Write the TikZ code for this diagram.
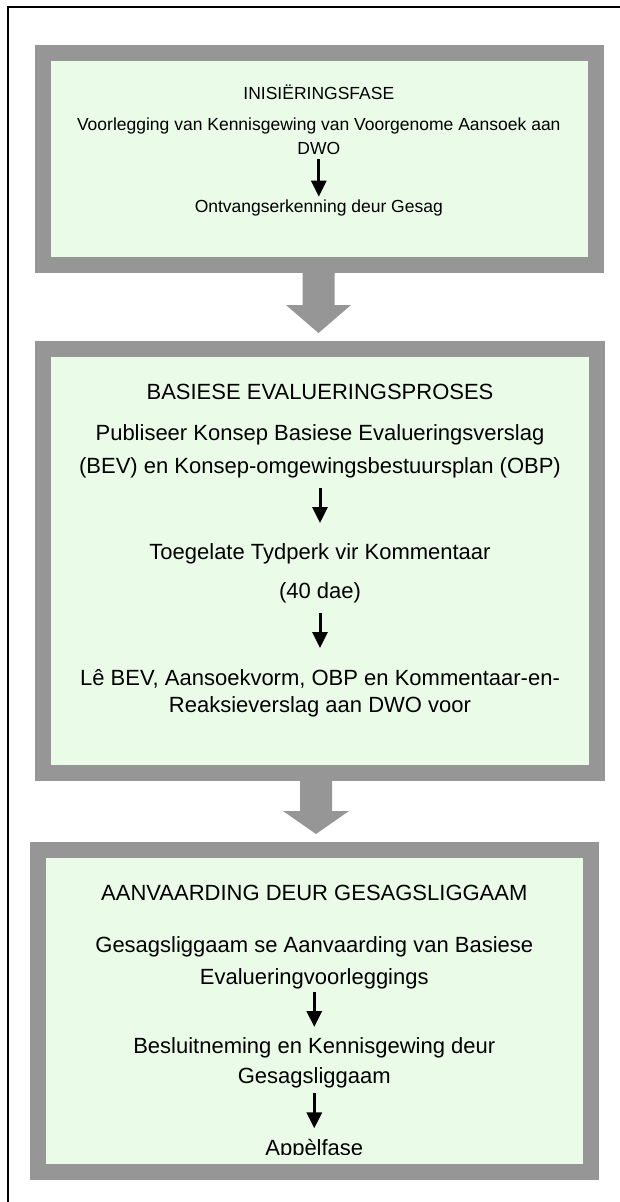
\documentclass[tikz,border=0pt]{standalone}
\usepackage{fontspec}
\setmainfont{Liberation Sans}
\usetikzlibrary{arrows.meta,calc}
\definecolor{boxgray}{RGB}{150,150,150}
\definecolor{boxgreen}{RGB}{234,252,232}
\begin{document}
\begin{tikzpicture}[x=1pt,y=-1pt,
  phase/.style={draw=boxgray, line width=16pt, fill=boxgreen, inner sep=0pt},
  smalltxt/.style={font=\fontsize{17.5}{21}\selectfont, anchor=base, inner sep=0pt},
  bigtxt/.style={font=\fontsize{22}{26}\selectfont, anchor=base, inner sep=0pt},
  sarrow/.style={line width=3pt, -{Triangle[length=16pt,width=15pt]}},
  blockarrow/.style={fill=boxgray}]
\useasboundingbox (0,0) rectangle (620,1202);
% outer frame (top and left only)
\draw[line width=2pt] (7.5,1202) -- (7.5,7.3) -- (620,7.3);
% phase boxes
\node[phase, minimum width=553pt, minimum height=212pt] (b1) at (319.5,159) {};
\node[phase, minimum width=554pt, minimum height=424pt] (b2) at (320,561) {};
\node[phase, minimum width=553pt, minimum height=321.5pt] (b3) at (314.5,1010.75) {};
% block arrows
\fill[blockarrow] ($(b1.south)+(-17,0)$) -- ($(b2.north)+(-17.5,-36)$) -- ($(b2.north)+(-34,-36)$) -- ($(b2.north)+(-1.5,-8)$) -- ($(b2.north)+(31,-36)$) -- ($(b2.north)+(14.5,-36)$) -- ($(b1.south)+(15,0)$) -- cycle;
\fill[blockarrow] ($(b2.south)+(-20,0)$) -- ($(b3.north)+(-14.5,-31)$) -- ($(b3.north)+(-31.5,-31)$) -- ($(b3.north)+(1.5,-8)$) -- ($(b3.north)+(34.5,-31)$) -- ($(b3.north)+(17.5,-31)$) -- ($(b2.south)+(12,0)$) -- cycle;
% box 1 texts
\node[smalltxt] (t1a) at (318.8,99) {INISIËRINGSFASE};
\node[smalltxt] (t1b) at (318.8,130.7) {Voorlegging van Kennisgewing van Voorgenome Aansoek aan};
\node[smalltxt] (t1c) at (318.8,154.3) {DWO};
\node[smalltxt] (t1d) at (318.8,212.3) {Ontvangserkenning deur Gesag};
\draw[sarrow] ([yshift=-5pt]t1c.base) -- ([yshift=15.6pt]t1d.base);
% box 2 texts
\node[bigtxt] (t2a) at (320,399.3) {BASIESE EVALUERINGSPROSES};
\node[bigtxt] (t2b) at (320,440.5) {Publiseer Konsep Basiese Evalueringsverslag};
\node[bigtxt] (t2c) at (320,473.5) {(BEV) en Konsep-omgewingsbestuursplan (OBP)};
\node[bigtxt] (t2d) at (320,559) {Toegelate Tydperk vir Kommentaar};
\node[bigtxt] (t2e) at (320,598) {(40 dae)};
\node[bigtxt] (t2f) at (320,685) {Lê BEV, Aansoekvorm, OBP en Kommentaar-en-};
\node[bigtxt] (t2g) at (320,712) {Reaksieverslag aan DWO voor};
\draw[sarrow] ([yshift=-14.5pt]t2c.base) -- ([yshift=36pt]t2d.base);
\draw[sarrow] ([yshift=-15pt]t2e.base) -- ([yshift=37pt]t2f.base);
% box 3 texts
\node[bigtxt] (t3a) at (314.3,900) {AANVAARDING DEUR GESAGSLIGGAAM};
\node[bigtxt] (t3b) at (314.3,952.7) {Gesagsliggaam se Aanvaarding van Basiese};
\node[bigtxt] (t3c) at (314.3,984) {Evalueringvoorleggings};
\node[bigtxt] (t3d) at (314.3,1053.3) {Besluitneming en Kennisgewing deur};
\node[bigtxt] (t3e) at (314.3,1083.5) {Gesagsliggaam};
\begin{scope}
  \clip (0,0) rectangle (620,1154.5);
  \node[bigtxt] (t3f) at (314.3,1155.5) {Appèlfase};
\end{scope}
\draw[sarrow] ([yshift=-8pt]t3c.base) -- ([yshift=26.3pt]t3d.base);
\draw[sarrow] ([yshift=-9.8pt]t3e.base) -- ([yshift=27.2pt]t3f.base);
\end{tikzpicture}
\end{document}
